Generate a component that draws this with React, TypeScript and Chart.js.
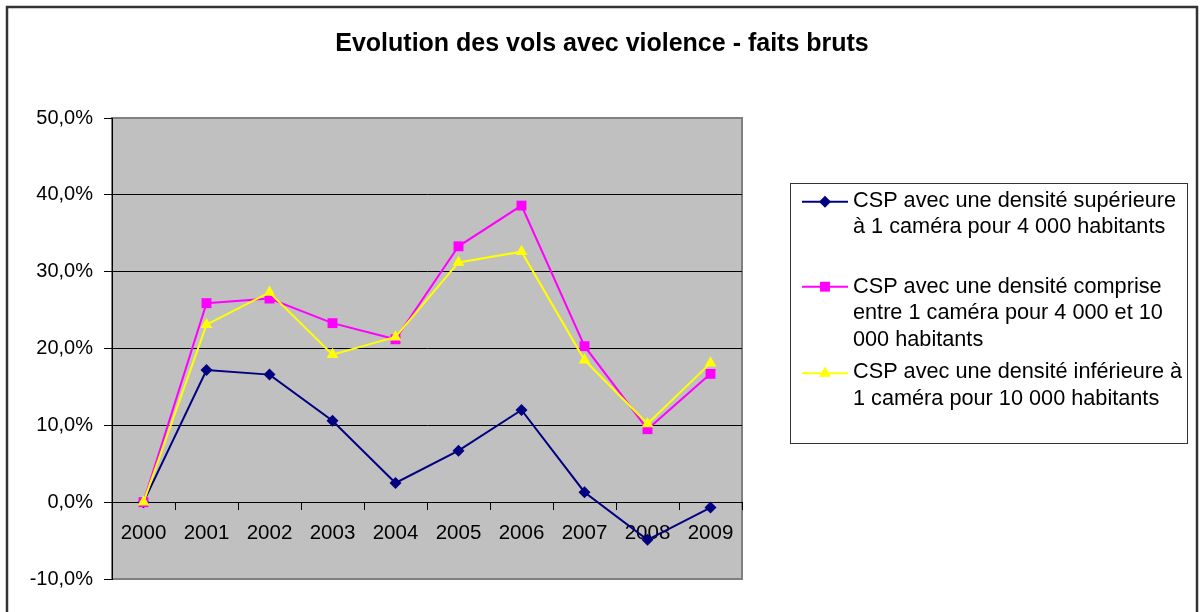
import React, { useEffect, useRef } from 'react';
import { Chart, registerables } from 'chart.js';

Chart.register(...registerables);

// ---- Data ----
const years = ['2000', '2001', '2002', '2003', '2004', '2005', '2006', '2007', '2008', '2009'];
const seriesHigh = [0, 17.2, 16.6, 10.6, 2.5, 6.7, 12.0, 1.3, -4.9, -0.7];
const seriesMid = [0, 25.9, 26.5, 23.3, 21.2, 33.3, 38.6, 20.3, 9.5, 16.7];
const seriesLow = [0, 23.1, 27.3, 19.2, 21.5, 31.2, 32.6, 18.5, 10.2, 18.1];

const seriesLabels = [
  'CSP avec une densité supérieure à 1 caméra pour 4 000 habitants',
  'CSP avec une densité comprise entre 1 caméra pour 4 000 et 10 000 habitants',
  'CSP avec une densité inférieure à 1 caméra pour 10 000 habitants',
];
const legendLines = [
  ['CSP avec une densité supérieure', 'à 1 caméra pour 4 000 habitants'],
  ['CSP avec une densité comprise', 'entre 1 caméra pour 4 000 et 10', '000 habitants'],
  ['CSP avec une densité inférieure à', '1 caméra pour 10 000 habitants'],
];
const chartTitle = 'Evolution des vols avec violence - faits bruts';
const yMin = -10;
const yMax = 50;
const yStep = 10;

const FONT = '"Liberation Sans", Arial, Helvetica, sans-serif';
const COLORS = ['#000080', '#FF00FF', '#FFFF00'];
const STYLES = ['rectRot', 'rect', 'triangle'];
const RADII = [6, 7, 6.8];

function drawMarker(ctx: CanvasRenderingContext2D, style: string, x: number, y: number, r: number, color: string) {
  ctx.save();
  ctx.fillStyle = color;
  ctx.beginPath();
  if (style === 'rectRot') {
    ctx.moveTo(x, y - r);
    ctx.lineTo(x + r, y);
    ctx.lineTo(x, y + r);
    ctx.lineTo(x - r, y);
  } else if (style === 'rect') {
    const s = r * Math.SQRT1_2;
    ctx.rect(x - s, y - s, 2 * s, 2 * s);
  } else {
    const h = r * Math.sqrt(3) / 2;
    ctx.moveTo(x, y - r);
    ctx.lineTo(x + h, y + r / 2);
    ctx.lineTo(x - h, y + r / 2);
  }
  ctx.closePath();
  ctx.fill();
  ctx.restore();
}

const decorPlugin = {
  id: 'decor',
  beforeDraw(chart: any) {
    const { ctx, chartArea: a } = chart;
    ctx.save();
    ctx.fillStyle = '#ffffff';
    ctx.fillRect(0, 0, chart.width, chart.height);
    ctx.fillStyle = '#C0C0C0';
    ctx.fillRect(a.left, a.top, a.right - a.left, a.bottom - a.top);
    ctx.strokeStyle = '#808080';
    ctx.lineWidth = 2;
    ctx.strokeRect(a.left, a.top, a.right - a.left, a.bottom - a.top);
    // outer frame
    ctx.strokeStyle = '#333333';
    ctx.lineWidth = 2.5;
    ctx.strokeRect(7, 7, 1190, 700);
    // title
    ctx.fillStyle = '#000';
    ctx.font = `bold 25px ${FONT}`;
    ctx.textAlign = 'center';
    ctx.textBaseline = 'alphabetic';
    ctx.fillText(chartTitle, 602, 51);
    ctx.restore();
  },
  afterDraw(chart: any) {
    const { ctx } = chart;
    ctx.save();
    // legend box
    ctx.strokeStyle = '#333333';
    ctx.lineWidth = 1;
    ctx.strokeRect(790.5, 183.5, 397, 260);
    const markerY = [201.7, 286.7, 373.3];
    const baselines = [[206.7, 232.7], [293.3, 319.3, 346], [378.3, 405]];
    ctx.font = `21.7px ${FONT}`;
    ctx.textAlign = 'left';
    ctx.textBaseline = 'alphabetic';
    legendLines.forEach((lines, i) => {
      ctx.strokeStyle = COLORS[i];
      ctx.lineWidth = 2;
      ctx.beginPath();
      ctx.moveTo(802, markerY[i]);
      ctx.lineTo(848, markerY[i]);
      ctx.stroke();
      drawMarker(ctx, STYLES[i], 825, markerY[i], RADII[i], COLORS[i]);
      ctx.fillStyle = '#000';
      lines.forEach((t, j) => ctx.fillText(t, 853, baselines[i][j]));
    });
    ctx.restore();
  },
};

export default function App() {
  const ref = useRef<HTMLCanvasElement | null>(null);

  useEffect(() => {
    document.body.style.margin = '0';
    document.body.style.overflow = 'hidden';
    const canvas = ref.current;
    if (!canvas) return;
    const datasets = [seriesHigh, seriesMid, seriesLow].map((d, i) => ({
      label: seriesLabels[i],
      data: d,
      borderColor: COLORS[i],
      backgroundColor: COLORS[i],
      pointBackgroundColor: COLORS[i],
      pointBorderColor: COLORS[i],
      pointBorderWidth: 0,
      pointStyle: STYLES[i],
      pointRadius: RADII[i],
      borderWidth: 2,
      tension: 0,
      order: 2 - i,
    }));
    const chart = new Chart(canvas, {
      type: 'line',
      data: { labels: years, datasets },
      plugins: [decorPlugin],
      options: {
        animation: false,
        responsive: false,
        events: [],
        layout: { padding: { left: 0, top: 118, right: 458, bottom: 33 } },
        plugins: {
          legend: { display: false },
          title: { display: false },
          tooltip: { enabled: false },
        },
        scales: {
          x: {
            type: 'category',
            offset: true,
            position: { y: 0 } as any,
            grid: {
              drawOnChartArea: false,
              drawTicks: true,
              tickLength: 7,
              tickColor: '#000',
              offset: true,
            },
            border: { color: '#000', width: 1 },
            ticks: {
              color: '#000',
              font: { family: FONT, size: 20.5 },
              padding: 12,
              maxRotation: 0,
              autoSkip: false,
            },
          },
          y: {
            min: yMin,
            max: yMax,
            ticks: {
              stepSize: yStep,
              color: '#000',
              font: { family: FONT, size: 20 },
              padding: 11,
              callback: (v: any) => Number(v).toFixed(1).replace('.', ',') + '%',
            },
            grid: {
              color: (c: any) =>
                c.tick && (c.tick.value === yMax || c.tick.value === yMin) ? 'rgba(0,0,0,0)' : '#000',
              tickColor: '#000',
              tickLength: 8,
              lineWidth: 1,
            },
            border: { color: '#000', width: 1 },
            afterFit: (s: any) => {
              s.width = 112;
            },
          },
        },
      },
    });
    return () => chart.destroy();
  }, []);

  return (
    <div style={{ position: 'relative', width: 1200, height: 612, overflow: 'hidden' }}>
      <canvas ref={ref} width={1200} height={612} style={{ display: 'block', width: 1200, height: 612 }} />
    </div>
  );
}
